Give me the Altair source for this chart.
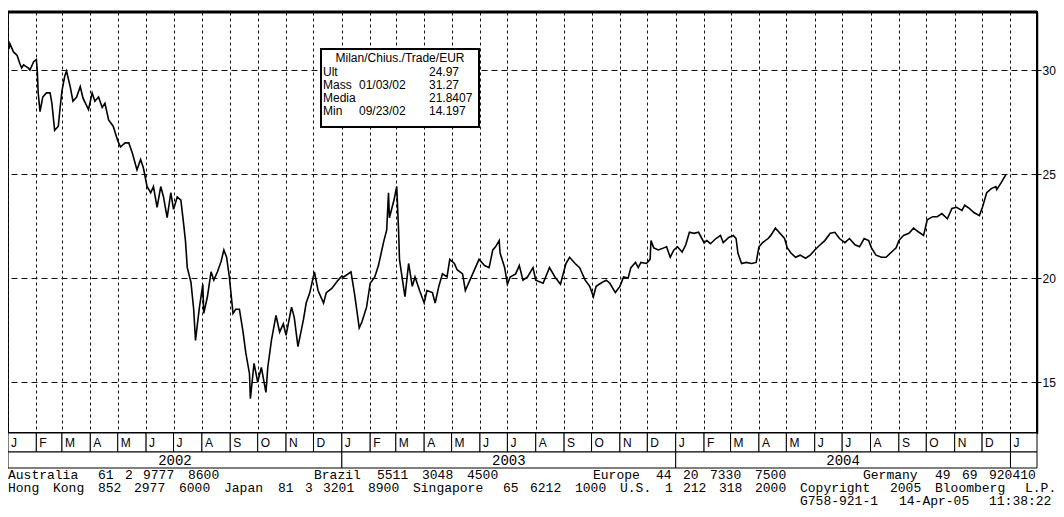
import re
import altair as alt
import pandas as pd

# ---------------- data ----------------
dates = [
    "2002-01-02", "2002-01-03", "2002-01-07", "2002-01-11", "2002-01-14", "2002-01-16", "2002-01-18",
    "2002-01-23", "2002-01-25", "2002-01-29", "2002-02-01", "2002-02-02", "2002-02-03", "2002-02-05",
    "2002-02-08", "2002-02-12", "2002-02-16", "2002-02-18", "2002-02-21", "2002-02-25", "2002-02-27",
    "2002-03-01", "2002-03-04", "2002-03-06", "2002-03-10", "2002-03-13", "2002-03-17", "2002-03-21",
    "2002-03-24", "2002-03-30", "2002-04-03", "2002-04-06", "2002-04-10", "2002-04-14", "2002-04-17",
    "2002-04-21", "2002-04-26", "2002-05-01", "2002-05-04", "2002-05-09", "2002-05-13", "2002-05-17",
    "2002-05-22", "2002-05-26", "2002-05-29", "2002-06-02", "2002-06-06", "2002-06-09", "2002-06-13",
    "2002-06-17", "2002-06-20", "2002-06-24", "2002-06-28", "2002-07-01", "2002-07-05", "2002-07-09",
    "2002-07-12", "2002-07-14", "2002-07-16", "2002-07-20", "2002-07-23", "2002-07-25", "2002-07-29",
    "2002-08-02", "2002-08-03", "2002-08-07", "2002-08-11", "2002-08-14", "2002-08-18", "2002-08-22",
    "2002-08-25", "2002-08-28", "2002-08-31", "2002-09-04", "2002-09-07", "2002-09-11", "2002-09-15",
    "2002-09-18", "2002-09-22", "2002-09-23", "2002-09-27", "2002-10-01", "2002-10-05", "2002-10-10",
    "2002-10-12", "2002-10-16", "2002-10-21", "2002-10-25", "2002-10-29", "2002-11-01", "2002-11-07",
    "2002-11-10", "2002-11-14", "2002-11-20", "2002-11-23", "2002-11-27", "2002-12-02", "2002-12-06",
    "2002-12-12", "2002-12-15", "2002-12-21", "2002-12-28",
    "2003-01-01", "2003-01-03", "2003-01-11", "2003-01-15", "2003-01-20", "2003-01-23", "2003-01-28",
    "2003-02-01", "2003-02-06", "2003-02-10", "2003-02-16", "2003-02-19", "2003-02-21", "2003-02-22",
    "2003-02-27", "2003-03-02", "2003-03-04", "2003-03-05", "2003-03-10", "2003-03-11", "2003-03-15",
    "2003-03-19", "2003-03-22", "2003-03-27", "2003-04-01", "2003-04-04", "2003-04-10", "2003-04-13",
    "2003-04-17", "2003-04-21", "2003-04-26", "2003-04-29", "2003-05-04", "2003-05-07", "2003-05-13",
    "2003-05-16", "2003-05-21", "2003-05-27", "2003-05-31", "2003-06-06", "2003-06-11", "2003-06-15",
    "2003-06-18", "2003-06-22", "2003-06-23", "2003-06-28", "2003-07-01", "2003-07-04", "2003-07-10",
    "2003-07-14", "2003-07-18", "2003-07-23", "2003-07-29", "2003-08-01", "2003-08-09", "2003-08-16",
    "2003-08-22", "2003-08-28", "2003-09-03", "2003-09-07", "2003-09-13", "2003-09-18", "2003-09-24",
    "2003-09-29", "2003-10-03", "2003-10-06", "2003-10-11", "2003-10-17", "2003-10-21", "2003-10-27",
    "2003-11-01", "2003-11-05", "2003-11-10", "2003-11-13", "2003-11-18", "2003-11-21", "2003-11-24",
    "2003-11-30", "2003-12-04", "2003-12-05", "2003-12-08", "2003-12-13", "2003-12-19", "2003-12-22",
    "2003-12-26", "2003-12-30",
    "2004-01-03", "2004-01-08", "2004-01-12", "2004-01-16", "2004-01-21", "2004-01-26", "2004-02-01",
    "2004-02-04", "2004-02-08", "2004-02-14", "2004-02-19", "2004-02-22", "2004-02-28", "2004-03-04",
    "2004-03-07", "2004-03-09", "2004-03-13", "2004-03-18", "2004-03-24", "2004-03-29", "2004-04-01",
    "2004-04-05", "2004-04-11", "2004-04-14", "2004-04-19", "2004-04-24", "2004-04-29", "2004-05-02",
    "2004-05-06", "2004-05-11", "2004-05-16", "2004-05-22", "2004-05-27", "2004-06-01", "2004-06-07",
    "2004-06-12", "2004-06-18", "2004-06-23", "2004-06-28", "2004-07-04", "2004-07-09", "2004-07-15",
    "2004-07-20", "2004-07-25", "2004-07-30", "2004-08-02", "2004-08-07", "2004-08-13", "2004-08-18",
    "2004-08-24", "2004-08-29", "2004-09-01", "2004-09-06", "2004-09-12", "2004-09-17", "2004-09-23",
    "2004-09-28", "2004-10-02", "2004-10-08", "2004-10-13", "2004-10-18", "2004-10-24", "2004-10-29",
    "2004-11-03", "2004-11-09", "2004-11-12", "2004-11-17", "2004-11-22", "2004-11-28", "2004-12-01",
    "2004-12-06", "2004-12-11", "2004-12-16", "2004-12-17", "2004-12-22", "2004-12-27",
]
prices = [
    31.0, 31.27, 30.87, 30.7, 30.3, 30.1, 30.25,
    30.1, 30.0, 30.4, 30.5, 30.0, 28.9, 28.0,
    28.7, 28.9, 28.9, 28.4, 27.1, 27.3, 28.2,
    29.0, 29.7, 29.95, 29.2, 28.5, 28.7, 29.2,
    28.65, 28.1, 28.9, 28.5, 28.7, 28.2, 28.4,
    27.6, 27.3, 26.6, 26.3, 26.5, 26.5, 26.0,
    25.2, 25.7, 25.3, 24.4, 24.1, 24.4, 23.4,
    24.4, 23.9, 22.9, 24.1, 23.3, 23.9, 23.75,
    22.6, 21.8, 20.5, 19.8, 18.5, 17.0, 18.5,
    19.7, 18.3, 19.1, 20.3, 19.9, 20.3, 20.8,
    21.35, 21.0, 20.05, 18.3, 18.5, 18.5, 17.4,
    16.4, 15.4, 14.197, 15.9, 15.0, 15.7, 14.5,
    15.7, 17.0, 18.2, 17.4, 17.8, 17.25, 18.6,
    18.1, 16.7, 18.0, 18.8, 19.3, 20.3, 19.4,
    18.8, 19.3, 19.5, 19.9,
    20.1, 20.05, 20.3, 19.2, 17.6, 17.9, 18.6,
    19.75, 20.05, 20.6, 21.8, 22.3, 24.1, 22.9,
    23.75, 24.4, 22.3, 20.9, 19.4, 19.1, 20.7,
    19.6, 20.05, 19.4, 18.8, 19.4, 19.3, 18.8,
    19.6, 20.2, 20.05, 20.9, 20.7, 20.4, 20.2,
    19.4, 19.9, 20.5, 20.9, 20.6, 20.5, 21.35,
    21.5, 21.8, 21.2, 20.5, 19.7, 20.05, 20.2,
    20.6, 19.9, 20.05, 20.5, 19.9, 19.75, 20.5,
    20.05, 19.7, 20.7, 21.0, 20.7, 20.5, 19.9,
    19.6, 19.1, 19.6, 19.75, 19.9, 19.75, 19.3,
    19.6, 20.05, 20.0, 20.5, 20.75, 20.5, 20.75,
    20.7, 20.9, 21.8, 21.45, 21.35, 21.45, 21.5,
    21.0, 21.35,
    21.5, 21.25, 21.6, 22.2, 22.15, 22.2, 21.7,
    21.8, 21.65, 21.9, 22.05, 21.7, 21.95, 22.05,
    21.9, 21.2, 20.7, 20.75, 20.7, 20.75, 21.5,
    21.7, 21.9, 22.05, 22.4, 22.15, 21.9, 21.45,
    21.2, 21.0, 21.1, 20.95, 21.1, 21.35, 21.6,
    21.8, 22.15, 22.2, 21.9, 21.7, 21.9, 21.6,
    21.5, 21.9, 21.8, 21.45, 21.1, 21.0, 21.0,
    21.25, 21.45, 21.8, 22.05, 22.15, 22.4, 22.2,
    22.05, 22.8, 22.95, 22.95, 23.1, 22.85, 23.35,
    23.4, 23.25, 23.5, 23.35, 23.15, 23.0, 23.35,
    24.1, 24.3, 24.4, 24.25, 24.6, 24.97,
]

month_letters = ["J", "F", "M", "A", "M", "J", "J", "A", "S", "O", "N", "D"]
year_labels = ["2002", "2003", "2004", ""]
year_starts = ["2002-01-01", "2003-01-01", "2004-01-01", "2005-01-01"]
y_ticks = [15, 20, 25, 30]

legend_title = "Milan/Chius./Trade/EUR"
legend_labels = ["Ult", "Mass", "Media", "Min"]
legend_dates = ["", "01/03/02", "", "09/23/02"]
legend_values = ["24.97", "31.27", "21.8407", "14.197"]

# footer text chunks: (starting character column, text) for each of the three lines
footer_chunks = [
    [(0, "Australia 61 2 9777 8600"), (34, "Brazil 5511 3048 4500"),
     (65, "Europe 44 20 7330 7500"), (95, "Germany 49 69 920410")],
    [(0, "Hong Kong 852 2977 6000 Japan 81 3 3201 8900 Singapore 65 6212 1000 "
         "U.S. 1 212 318 2000 Copyright 2005 Bloomberg L.P.")],
    [(88, "G758-921-1 14-Apr-05 11:38:22")],
]

X_START = "2002-01-01"
X_END = "2005-01-30"
Y_MIN, Y_MAX = 12.55, 32.79

# ---------------- layout ----------------
W, H = 1029, 421
CHAR_W = 9.0          # width of one character column of the terminal footer
MONO = "Liberation Mono"
SANS = "Liberation Sans"

df = pd.DataFrame({"date": pd.to_datetime(dates), "price": prices})

month_starts = pd.date_range(X_START, "2005-01-01", freq="MS")
month_df = pd.DataFrame({
    "start": month_starts,
    "end": list(month_starts[1:]) + [pd.Timestamp(X_END)],
    "letter": [month_letters[d.month - 1] for d in month_starts],
})
ys = pd.to_datetime(year_starts)
ye = list(ys[1:]) + [pd.Timestamp(X_END)]
year_df = pd.DataFrame({"start": ys, "end": ye, "label": year_labels})
year_df["mid"] = year_df["start"] + (year_df["end"] - year_df["start"]) / 2

words = []
for row, chunks in enumerate(footer_chunks):
    for col, text in chunks:
        for m in re.finditer(r"\S+", text):
            words.append({"row": row, "col": col + m.start(), "word": m.group()})
words_df = pd.DataFrame(words)

xscale = alt.Scale(domain=[alt.DateTime(year=2002, month=1, date=1),
                           alt.DateTime(year=2005, month=1, date=30)], nice=False)
yscale = alt.Scale(domain=[Y_MIN, Y_MAX], nice=False, zero=False)

x_axis = alt.Axis(grid=True, gridDash=[3, 3], gridColor="#111", gridWidth=1,
                  tickCount={"interval": "month", "step": 1},
                  labels=False, ticks=False, domain=False, title=None)
y_axis = alt.Axis(orient="right", values=y_ticks, grid=True, gridDash=[6, 4],
                  gridColor="#111", gridWidth=1, title=None, labelFont=SANS,
                  labelFontSize=12, labelColor="black", tickColor="black",
                  tickSize=4, labelPadding=1, domain=True, domainColor="black",
                  domainWidth=1.5)

line = alt.Chart(df).mark_line(color="black", strokeWidth=1.6).encode(
    x=alt.X("date:T", scale=xscale, axis=x_axis),
    y=alt.Y("price:Q", scale=yscale, axis=y_axis),
)

top_rule = alt.Chart(pd.DataFrame({"a": [0]})).mark_rule(color="black", strokeWidth=3).encode(
    x=alt.value(0), x2=alt.value(W), y=alt.value(0))


def label(text, x, y, size=12, font=SANS, align="left"):
    return alt.Chart(pd.DataFrame({"t": [text]})).mark_text(
        align=align, baseline="alphabetic", font=font, fontSize=size, color="black"
    ).encode(text="t:N", x=alt.value(x), y=alt.value(y))


legend_box = alt.Chart(pd.DataFrame({"a": [0]})).mark_rect(
    fill="white", stroke="black", strokeWidth=2).encode(
    x=alt.value(313), x2=alt.value(471), y=alt.value(37), y2=alt.value(115))

legend_layers = [legend_box, label(legend_title, 392, 50, size=12, align="center")]
for i, (lab, dt, val) in enumerate(zip(legend_labels, legend_dates, legend_values)):
    yy = 64 + 13 * i
    legend_layers.append(label(lab, 315, yy))
    if dt:
        legend_layers.append(label(dt, 351, yy))
    legend_layers.append(label(val, 421, yy))

month_rects = alt.Chart(month_df).mark_rect(fill="white", stroke="black", strokeWidth=1).encode(
    x=alt.X("start:T", scale=xscale, axis=None), x2="end:T",
    y=alt.value(H), y2=alt.value(H + 19))
month_text = alt.Chart(month_df).mark_text(
    align="left", baseline="middle", dx=3, font=SANS, fontSize=12, color="black").encode(
    x=alt.X("start:T", scale=xscale, axis=None), y=alt.value(H + 10), text="letter:N")

year_rects = alt.Chart(year_df).mark_rect(fill="white", stroke="black", strokeWidth=1).encode(
    x=alt.X("start:T", scale=xscale, axis=None), x2="end:T",
    y=alt.value(H + 19), y2=alt.value(H + 35))
year_text = alt.Chart(year_df).mark_text(
    align="center", baseline="middle", font=MONO, fontSize=14, color="black").encode(
    x=alt.X("mid:T", scale=xscale, axis=None), y=alt.value(H + 28), text="label:N")

footer = alt.Chart(words_df).mark_text(
    align="left", baseline="alphabetic", font=MONO, fontSize=13, color="black").encode(
    x=alt.X("col:Q", scale=alt.Scale(domain=[0, W / CHAR_W], range=[0, W], nice=False, zero=False),
            axis=None),
    y=alt.Y("row:Q", scale=alt.Scale(domain=[0, 2], range=[H + 46, H + 72], nice=False, zero=False),
            axis=None),
    text="word:N",
)

chart = alt.layer(
    line, top_rule, *legend_layers, month_rects, month_text, year_rects, year_text, footer
).resolve_scale(x="independent", y="independent").properties(
    width=W, height=H,
    autosize=alt.AutoSizeParams(type="none"),
    padding={"left": 0, "top": 4, "right": 19, "bottom": 75},
    background="white",
).configure_view(stroke="black", strokeWidth=2)

chart.save("out.html", embed_options={"renderer": "svg", "actions": False})
